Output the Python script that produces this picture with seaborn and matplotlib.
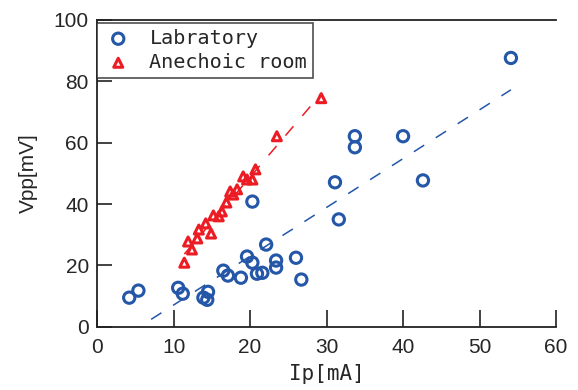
import numpy as np
import pandas as pd
import matplotlib
matplotlib.use("Agg")
import matplotlib.pyplot as plt
import seaborn as sns

# ---- data ----
lab_ip = [4.2, 5.4, 10.6, 11.2, 13.9, 14.5, 14.4, 16.5, 17.1, 18.8, 19.6, 20.3,
          20.9, 21.6, 22.1, 23.4, 23.4, 26.0, 26.7, 20.3, 31.1, 31.6, 33.7, 33.7,
          40.0, 42.6, 54.1]
lab_vpp = [9.5, 11.8, 12.7, 10.8, 9.5, 11.4, 8.8, 18.3, 16.7, 16.0, 22.9, 20.9,
           17.3, 17.6, 26.8, 21.6, 19.3, 22.5, 15.4, 40.8, 47.1, 35.0, 62.1, 58.5,
           62.1, 47.7, 87.6]
ane_ip = [11.4, 12.4, 11.9, 13.1, 13.3, 14.2, 14.9, 15.2, 15.9, 16.3, 16.9, 17.4,
          17.8, 18.3, 19.1, 19.6, 20.3, 20.7, 23.5, 29.3]
ane_vpp = [20.9, 25.2, 27.8, 28.8, 31.7, 33.7, 30.4, 36.3, 36.0, 37.6, 40.5, 44.1,
           43.1, 44.8, 49.0, 48.0, 48.0, 51.3, 62.1, 74.5]

# trend lines (slope, intercept)
lab_fit = (1.59, -8.8)
ane_fit = (2.92, -9.6)

series_names = ["Labratory", "Anechoic room"]
x_ticks = [0, 10, 20, 30, 40, 50, 60]
y_ticks = [0, 20, 40, 60, 80, 100]
x_label = "Ip[mA]"
y_label = "Vpp[mV]"

BLUE = "#2457a8"
RED = "#ec1c24"

df = pd.concat([
    pd.DataFrame({"Ip": lab_ip, "Vpp": lab_vpp, "group": series_names[0]}),
    pd.DataFrame({"Ip": ane_ip, "Vpp": ane_vpp, "group": series_names[1]}),
], ignore_index=True)

sns.set_theme(style="ticks")
plt.rcParams["font.family"] = ["Liberation Sans Narrow", "Liberation Sans", "DejaVu Sans"]

fig = plt.figure(figsize=(5.78, 3.90), dpi=100)
ax = fig.add_axes([0.168, 0.162, 0.794, 0.787])

# trend lines (dashed)
for name, col, (k, b) in zip(series_names, [BLUE, RED], [lab_fit, ane_fit]):
    sub = df[df.group == name]
    xs = np.array([sub.Ip.min(), sub.Ip.max()])
    sns.lineplot(x=xs, y=k * xs + b, ax=ax, color=col, lw=1.1,
                 dashes=False, linestyle=(0, (8, 9)), legend=False, zorder=1)

markers = {series_names[0]: "o", series_names[1]: "^"}
sizes = {series_names[0]: 66, series_names[1]: 42}
for name, col in zip(series_names, [BLUE, RED]):
    sub = df[df.group == name]
    ax.scatter(sub.Ip, sub.Vpp, s=sizes[name], marker=markers[name],
               facecolors="none", edgecolors=col, linewidths=2.2,
               label=name, zorder=3)

ax.set_xlim(0, 60)
ax.set_ylim(0, 100)
ax.set_xticks(x_ticks)
ax.set_yticks(y_ticks)
ax.tick_params(axis="x", direction="in", length=12, width=1.3, color="#333333",
               labelsize=15, pad=8)
ax.tick_params(axis="y", direction="in", length=11, width=1.3, color="#333333",
               labelsize=15, pad=6)
for s in ["left", "bottom", "top"]:
    ax.spines[s].set_color("#222222")
    ax.spines[s].set_linewidth(1.3)
ax.spines["right"].set_visible(False)

ax.set_xlabel(x_label, fontsize=15, family="DejaVu Sans Mono", labelpad=5)
ax.set_ylabel(y_label, fontsize=15, labelpad=11)

leg = ax.legend(loc="upper left", bbox_to_anchor=(0.0, 0.99), borderaxespad=0,
                frameon=True, fancybox=False, edgecolor="#222222",
                prop={"family": "DejaVu Sans Mono", "size": 14.5},
                handletextpad=0.8, borderpad=0.3, labelspacing=0.25,
                handlelength=1.5)
leg.get_frame().set_linewidth(1.2)

fig.savefig("out.png", dpi=100)
